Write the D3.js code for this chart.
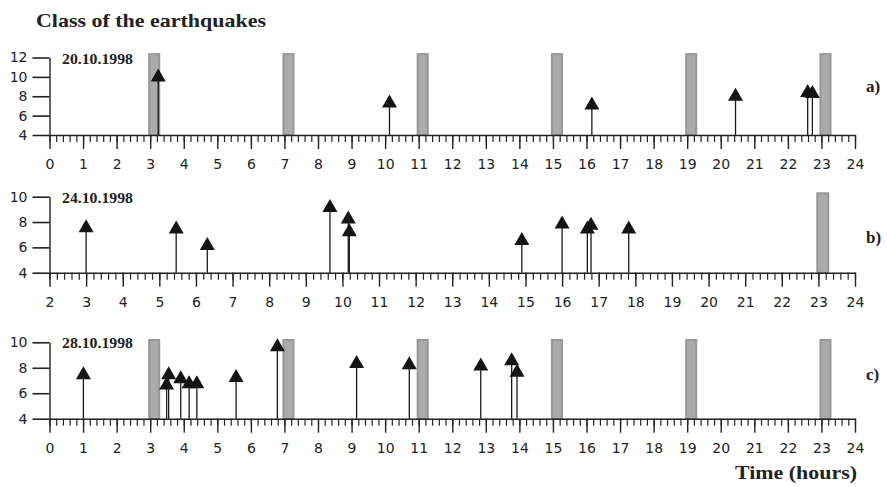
<!DOCTYPE html>
<html>
<head>
<meta charset="utf-8">
<script src="https://cdn.jsdelivr.net/npm/d3@7"></script>
<style>
  html, body { margin: 0; padding: 0; background: #fff; }
  svg { display: block; }
  .tick text { font-family: "DejaVu Sans", sans-serif; fill: #222; }
  .domain, .tick line { stroke: #222; }
</style>
</head>
<body>
<svg id="chart" width="887" height="487"></svg>
<script>
// Earthquake events: time of day (hours) and class, for three days
const dayA = "20.10.1998";
const timesA   = [3.24, 10.13, 16.16, 20.44, 22.59, 22.73];
const classesA = [10.2, 7.5, 7.3, 8.2, 8.6, 8.5];

const dayB = "24.10.1998";
const timesB   = [3.0, 5.46, 6.31, 9.66, 10.16, 10.19, 14.9, 16.0, 16.69, 16.79, 17.82];
const classesB = [7.7, 7.6, 6.3, 9.3, 8.4, 7.4, 6.7, 8.0, 7.6, 7.9, 7.6];

const dayC = "28.10.1998";
const timesC   = [1.01, 3.49, 3.55, 3.91, 4.16, 4.39, 5.56, 6.79, 9.15, 10.72, 12.85, 13.77, 13.93];
const classesC = [7.6, 6.8, 7.6, 7.3, 6.9, 6.9, 7.4, 9.8, 8.5, 8.4, 8.3, 8.7, 7.8];

// Observation windows (start hour) shown as grey bars
const windowsA = [3, 7, 11, 15, 19, 23];
const windowsB = [23];
const windowsC = [3, 7, 11, 15, 19, 23];

// Axis ticks
const hourTicksA = d3.range(0, 25);
const hourTicksB = d3.range(2, 25);
const hourTicksC = d3.range(0, 25);
const classTicksA = [4, 6, 8, 10, 12];
const classTicksB = [4, 6, 8, 10];
const classTicksC = [4, 6, 8, 10];

const panelLetters = ["a)", "b)", "c)"];

const svg = d3.select("#chart");

const panels = [
  { day: dayA, times: timesA, classes: classesA, windows: windowsA, xTicks: hourTicksA, yTicks: classTicksA,
    xDomain: [0, 24], yDomain: [4, 12], yTop: 57.5, yBottom: 135, barTop: 12.35, letterY: 92 },
  { day: dayB, times: timesB, classes: classesB, windows: windowsB, xTicks: hourTicksB, yTicks: classTicksB,
    xDomain: [2, 24], yDomain: [4, 10], yTop: 196.7, yBottom: 272.7, barTop: 10.27, letterY: 243 },
  { day: dayC, times: timesC, classes: classesC, windows: windowsC, xTicks: hourTicksC, yTicks: classTicksC,
    xDomain: [0, 24], yDomain: [4, 10], yTop: 342.3, yBottom: 418.7, barTop: 10.18, letterY: 380 }
];

const xLeft = 49.5, xRight = 855;
const windowStart = -0.03, windowEnd = 0.27;   // bar extent around the hour mark

panels.forEach((p, i) => {
  const x = d3.scaleLinear().domain(p.xDomain).range([xLeft, xRight]);
  const y = d3.scaleLinear().domain(p.yDomain).range([p.yBottom, p.yTop]);
  const g = svg.append("g");

  // grey observation bars
  g.selectAll("rect.win").data(p.windows).join("rect")
    .attr("class", "win")
    .attr("x", d => x(d + windowStart))
    .attr("width", d => x(d + windowEnd) - x(d + windowStart))
    .attr("y", y(p.barTop))
    .attr("height", y(p.yDomain[0]) - y(p.barTop))
    .attr("fill", "#ababab")
    .attr("stroke", "#979797")
    .attr("stroke-width", 2);

  // minor ticks (every 12 minutes)
  const minor = d3.range(p.xDomain[0], p.xDomain[1] + 1e-9, 0.2);
  g.append("g")
    .attr("transform", `translate(0,${p.yBottom})`)
    .call(d3.axisBottom(x).tickValues(minor).tickSize(7).tickFormat(""))
    .call(s => s.select(".domain").remove())
    .selectAll("line").attr("stroke-width", 1.2);

  // major ticks with hour labels
  g.append("g")
    .attr("transform", `translate(0,${p.yBottom})`)
    .call(d3.axisBottom(x).tickValues(p.xTicks).tickSize(14).tickSizeOuter(0).tickPadding(10).tickFormat(d3.format("d")))
    .call(s => s.select(".domain").attr("stroke-width", 1.6))
    .call(s => s.selectAll("line").attr("stroke-width", 1.4))
    .call(s => s.selectAll("text").attr("font-size", 14));

  // class axis
  g.append("g")
    .attr("transform", `translate(${xLeft},0)`)
    .call(d3.axisLeft(y).tickValues(p.yTicks).tickSize(17).tickSizeOuter(0).tickPadding(5).tickFormat(d3.format("d")))
    .call(s => s.select(".domain").attr("stroke-width", 1.4))
    .call(s => s.selectAll("line").attr("stroke-width", 1.6))
    .call(s => s.selectAll("text").attr("font-size", 14));

  // events: stem + triangle marker centred on the class value
  const ev = p.times.map((t, k) => ({ t, c: p.classes[k] }));
  const eg = g.selectAll("g.ev").data(ev).join("g").attr("class", "ev");
  eg.append("line")
    .attr("x1", d => x(d.t)).attr("x2", d => x(d.t))
    .attr("y1", y(p.yDomain[0])).attr("y2", d => y(d.c))
    .attr("stroke", "#1a1a1a").attr("stroke-width", 1.3);
  const tw = 7.5, th = 6.5;
  eg.append("path")
    .attr("d", d => {
      const cx = x(d.t), cy = y(d.c);
      return `M${cx},${cy - th}L${cx + tw},${cy + th}L${cx - tw},${cy + th}Z`;
    })
    .attr("fill", "#141414");

  // date label
  g.append("text")
    .attr("x", 62).attr("y", p.yTop + 6)
    .attr("font-family", "Liberation Serif, serif").attr("font-weight", "bold")
    .attr("font-size", 15).attr("fill", "#222")
    .attr("textLength", 71).attr("lengthAdjust", "spacingAndGlyphs")
    .text(p.day);

  // panel letter
  g.append("text")
    .attr("x", 866).attr("y", p.letterY)
    .attr("font-family", "Liberation Serif, serif").attr("font-weight", "bold")
    .attr("font-size", 17).attr("fill", "#222")
    .text(panelLetters[i]);
});

// titles
svg.append("text")
  .attr("x", 36).attr("y", 27.3)
  .attr("font-family", "Liberation Serif, serif").attr("font-weight", "bold")
  .attr("font-size", 19).attr("fill", "#222")
  .attr("textLength", 230).attr("lengthAdjust", "spacingAndGlyphs")
  .text("Class of the earthquakes");

svg.append("text")
  .attr("x", 735).attr("y", 479.3)
  .attr("font-family", "Liberation Serif, serif").attr("font-weight", "bold")
  .attr("font-size", 19).attr("fill", "#222")
  .attr("textLength", 122).attr("lengthAdjust", "spacingAndGlyphs")
  .text("Time (hours)");
</script>
</body>
</html>
